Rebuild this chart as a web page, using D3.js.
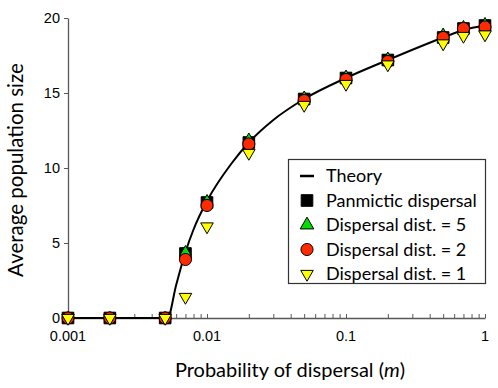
<!DOCTYPE html>
<html>
<head>
<meta charset="utf-8">
<script src="https://cdn.jsdelivr.net/npm/d3@7"></script>
<style>
  body { margin: 0; background: #fff; }
  svg { display: block; }
</style>
</head>
<body>
<div id="chart"></div>
<script>
// dispersal probabilities used in the simulations
var mValues = [0.001, 0.002, 0.005, 0.007, 0.01, 0.02, 0.05, 0.1, 0.2, 0.5, 0.7, 1];
var panmictic = [0, 0, 0, 4.3, 7.7, 11.7, 14.6, 16.0, 17.2, 18.7, 19.3, 19.5];
var dist5 = [0, 0, 0, 4.4, 7.8, 11.9, 14.7, 16.1, 17.3, 18.9, 19.4, 19.6];
var dist2 = [0, 0, 0, 3.9, 7.5, 11.6, 14.5, 15.9, 17.1, 18.7, 19.3, 19.4];
var dist1 = [0, 0, 0, 1.4, 6.1, 11.0, 14.2, 15.6, 16.9, 18.3, 18.8, 18.9];

// theory curve
var theoryM = [0.001, 0.0052, 0.006, 0.007, 0.008, 0.01, 0.015, 0.02, 0.03, 0.05, 0.1, 0.2, 0.5, 0.7, 1];
var theoryN = [0, 0, 2.2, 4.4, 5.9, 7.8, 10.3, 11.7, 13.2, 14.6, 16.0, 17.2, 18.7, 19.2, 19.5];

var xTicks = [0.001, 0.01, 0.1, 1];
var yTicks = [0, 5, 10, 15, 20];
var legendLabels = ["Theory", "Panmictic dispersal", "Dispersal dist. = 5", "Dispersal dist. = 2", "Dispersal dist. = 1"];

var width = 498, height = 388;
var axisColor = "#595959";

var svg = d3.select("#chart").append("svg")
    .attr("width", width)
    .attr("height", height);

var x = d3.scaleLog().domain([0.001, 1]).range([68, 485]);
var y = d3.scaleLinear().domain([0, 20]).range([318, 18]);

// minor ticks for the log axis
var minorTicks = [];
for (var d = 0.001; d < 1; d *= 10) {
    for (var k = 2; k <= 9; k++) minorTicks.push(d * k);
}

// x axis, ticks pointing into the plot
var xAxis = svg.append("g")
    .attr("transform", "translate(0," + y(0) + ")")
    .call(d3.axisTop(x).tickValues(xTicks.concat(minorTicks)).tickSize(4).tickSizeOuter(0).tickFormat(""));
xAxis.select(".domain").attr("stroke", axisColor).attr("stroke-width", 1.3);
xAxis.selectAll(".tick line").attr("stroke", axisColor).attr("stroke-width", 1);

svg.append("g").selectAll("text")
    .data(xTicks)
    .enter().append("text")
    .attr("x", function(d) { return x(d); })
    .attr("y", 341)
    .attr("text-anchor", "middle")
    .attr("font-family", "Liberation Sans, Arial, sans-serif")
    .attr("font-size", 14.5)
    .text(function(d) { return d; });

// y axis
var yAxis = svg.append("g")
    .attr("transform", "translate(" + x(0.001) + ",0)")
    .call(d3.axisLeft(y).tickValues(yTicks).tickSize(4).tickSizeOuter(0).tickPadding(4));
yAxis.select(".domain").attr("stroke", axisColor).attr("stroke-width", 1.3);
yAxis.selectAll(".tick line").attr("stroke", axisColor);
yAxis.selectAll(".tick text")
    .attr("font-family", "Liberation Sans, Arial, sans-serif")
    .attr("font-size", 14.5)
    .attr("fill", "#000");

// axis titles
var titleFont = "Lato, 'Open Sans', sans-serif";
var xTitle = svg.append("text")
    .attr("x", 290)
    .attr("y", 377)
    .attr("text-anchor", "middle")
    .attr("font-family", titleFont)
    .attr("font-size", 20);
xTitle.append("tspan").text("Probability of dispersal (");
xTitle.append("tspan").attr("font-style", "italic").text("m");
xTitle.append("tspan").text(")");

svg.append("text")
    .attr("transform", "translate(23,170) rotate(-90)")
    .attr("text-anchor", "middle")
    .attr("font-family", titleFont)
    .attr("font-size", 20.5)
    .text("Average population size");

// theory line
var line = d3.line()
    .x(function(d, i) { return x(theoryM[i]); })
    .y(function(d) { return y(d); })
    .curve(d3.curveMonotoneX);

svg.append("path")
    .datum(theoryN)
    .attr("d", line)
    .attr("fill", "none")
    .attr("stroke", "#000")
    .attr("stroke-width", 2);

// marker shapes
var triUp = d3.symbol().type(d3.symbolTriangle).size(55);
var triDown = d3.symbol().type(d3.symbolTriangle).size(68);
var circle = d3.symbol().type(d3.symbolCircle).size(115);
var square = d3.symbol().type(d3.symbolSquare).size(135);

// marker series, drawn bottom to top
var series = [
    { values: panmictic, path: square(), fill: "#000", rot: 0 },
    { values: dist5, path: triUp(), fill: "#00dd00", rot: 0 },
    { values: dist2, path: circle(), fill: "#ff2a00", rot: 0 },
    { values: dist1, path: triDown(), fill: "#ffff00", rot: 180 }
];

series.forEach(function(s) {
    svg.append("g").selectAll("path")
        .data(s.values)
        .enter().append("path")
        .attr("d", s.path)
        .attr("transform", function(d, i) {
            return "translate(" + x(mValues[i]) + "," + y(d) + ") rotate(" + s.rot + ")";
        })
        .attr("fill", s.fill)
        .attr("stroke", "#000")
        .attr("stroke-width", 1);
});

// legend
var legend = svg.append("g");
legend.append("rect")
    .attr("x", 288.5).attr("y", 159.5)
    .attr("width", 197).attr("height", 124)
    .attr("fill", "#fff")
    .attr("stroke", "#333")
    .attr("stroke-width", 1.2);

var legendY = d3.scalePoint().domain(legendLabels).range([176, 274]);
var legendSym = [null, square(), d3.symbol().type(d3.symbolTriangle).size(80)(), circle(), triDown()];
var legendFill = [null, "#000", "#00dd00", "#ff2a00", "#ffff00"];

legend.append("line")
    .attr("x1", 300).attr("x2", 314)
    .attr("y1", legendY(legendLabels[0])).attr("y2", legendY(legendLabels[0]))
    .attr("stroke", "#000").attr("stroke-width", 2.5);

legendLabels.forEach(function(lab, i) {
    if (legendSym[i]) {
        legend.append("path")
            .attr("d", legendSym[i])
            .attr("transform", "translate(307," + legendY(lab) + ") rotate(" + (i === 4 ? 180 : 0) + ")")
            .attr("fill", legendFill[i])
            .attr("stroke", "#000");
    }
    legend.append("text")
        .attr("x", 326)
        .attr("y", legendY(lab) + 6)
        .attr("font-family", titleFont)
        .attr("font-size", 18)
        .text(lab);
});
</script>
</body>
</html>
